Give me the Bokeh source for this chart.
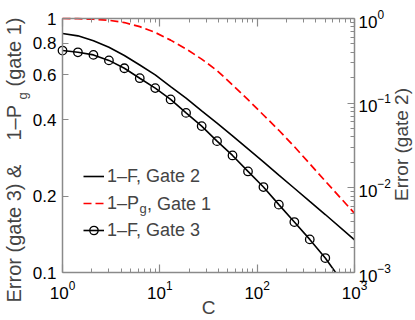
import math
from bokeh.plotting import figure
from bokeh.models import (Range1d, LogScale, LogAxis, FixedTicker, Label, Legend,
                          LegendItem, CustomJSTickFormatter, Grid)
from bokeh.embed import file_html
from bokeh.resources import INLINE

# ---- data ----
C = [1, 1.44, 2.08, 3.0, 4.32, 6.22, 8.97, 12.9, 18.6, 26.9, 38.7, 55.8, 80.5,
     116, 167, 241, 347, 501, 1000]
# 1-F, Gate 2 (right axis)
gate2_err = [0.665, 0.624, 0.547, 0.457, 0.366, 0.282, 0.216, 0.157, 0.115, 0.0813,
             0.0582, 0.0412, 0.0288, 0.0202, 0.0141, 0.00989, 0.00692, 0.00484, 0.00243]
# 1-Pg, Gate 1 (left axis)
gate1_err = [1.0, 0.998, 0.993, 0.984, 0.964, 0.929, 0.881, 0.822, 0.759, 0.692,
             0.624, 0.547, 0.479, 0.417, 0.363, 0.313, 0.268, 0.229, 0.171]
# 1-F, Gate 3 (left axis); its curve leaves the box at the bottom near C=640
C3 = [1, 1.44, 2.08, 3.0, 4.32, 6.22, 8.97, 12.9, 18.6, 26.9, 38.7, 55.8, 80.5,
      116, 167, 241, 347, 501, 640]
gate3_err = [0.748, 0.736, 0.719, 0.684, 0.637, 0.582, 0.532, 0.480, 0.425, 0.377,
             0.329, 0.289, 0.250, 0.217, 0.185, 0.158, 0.135, 0.114, 0.100]
C_marks = C3[:-1]
gate3_marks = gate3_err[:-1]

x_lim = (1, 1000)
left_lim = (0.1, 1.0)
right_lim = (0.001, 1.0)
x_major = [1, 10, 100, 1000]
left_ticks = [0.1, 0.2, 0.4, 0.6, 0.8, 1.0]
right_major = [0.001, 0.01, 0.1, 1.0]
x_minor = [m * d for d in (1, 10, 100) for m in range(2, 10)]
right_minor = [m * d for d in (0.001, 0.01, 0.1) for m in range(2, 10)]

# ---- layout: box (plot area) position in the 415x320 canvas ----
W, H = 415, 320
BOX_L, BOX_R, BOX_T, BOX_B = 62, 354, 18, 272


def log_range(lo, hi, p_lo, p_hi, total):
    # p_lo, p_hi: pixel distance of lo / hi from the canvas start edge
    a, b = math.log10(lo), math.log10(hi)
    per = (b - a) / (p_hi - p_lo)
    return Range1d(10 ** (a - p_lo * per), 10 ** (b + (total - p_hi) * per))


xr = log_range(x_lim[0], x_lim[1], BOX_L, BOX_R, W)
yr = log_range(left_lim[0], left_lim[1], H - BOX_B, H - BOX_T, H)
yr2 = log_range(right_lim[0], right_lim[1], H - BOX_B, H - BOX_T, H)

GRAY = "#8a8a8a"
FONT = "Liberation Sans"

p = figure(width=W, height=H, x_axis_type="log", y_axis_type="log",
           x_axis_location=None, y_axis_location=None,
           x_range=xr, y_range=yr, output_backend="svg", toolbar_location=None,
           min_border=0)
p.center = [c for c in p.center if not isinstance(c, Grid)]
p.extra_y_ranges = {"r": yr2}
p.extra_y_scales = {"r": LogScale()}
p.outline_line_color = None
p.background_fill_color = "white"
p.border_fill_color = "white"


def style(ax, major_in, minor_in, size="17px"):
    ax.axis_line_color = GRAY
    ax.axis_line_width = 1.5
    ax.major_tick_line_color = GRAY
    ax.minor_tick_line_color = GRAY
    ax.major_tick_line_width = 1.2
    ax.minor_tick_line_width = 1.0
    ax.major_tick_in = major_in
    ax.major_tick_out = 0
    ax.minor_tick_in = minor_in
    ax.minor_tick_out = 0
    ax.major_label_text_font = FONT
    ax.major_label_text_font_size = size
    ax.major_label_text_color = "black"


bottom = LogAxis(ticker=FixedTicker(ticks=x_major, minor_ticks=x_minor),
                 fixed_location=left_lim[0], bounds=x_lim)
style(bottom, 8, 4)
bottom.major_label_standoff = 8
p.add_layout(bottom, "below")

top = LogAxis(ticker=FixedTicker(ticks=x_major, minor_ticks=x_minor),
              fixed_location=left_lim[1], bounds=x_lim)
style(top, 8, 4, size="1px")
top.major_label_text_color = None
p.add_layout(top, "above")

left = LogAxis(ticker=FixedTicker(ticks=left_ticks, minor_ticks=[]),
               formatter=CustomJSTickFormatter(code="return String(tick)"),
               fixed_location=x_lim[0], bounds=left_lim)
style(left, 6, 0)
left.minor_tick_line_color = None
left.major_label_standoff = 6
p.add_layout(left, "left")

right = LogAxis(y_range_name="r",
                ticker=FixedTicker(ticks=right_major, minor_ticks=right_minor),
                fixed_location=x_lim[1], bounds=right_lim)
style(right, 7, 4)
right.major_label_standoff = 4
p.add_layout(right, "right")

# ---- curves ----
r2 = p.line(C, gate2_err, y_range_name="r", line_color="black", line_width=1.6)
r1 = p.line(C, gate1_err, line_color="#ff0000", line_width=1.7, line_dash="8 4")
r3l = p.line(C3, gate3_err, line_color="black", line_width=1.6)
r3c = p.scatter(C_marks, gate3_marks, marker="circle", size=8.5, fill_color=None,
                line_color="black", line_width=1.3)

leg = Legend(items=[LegendItem(label="1–F, Gate 2", renderers=[r2]),
                    LegendItem(label="1–P", renderers=[r1]),
                    LegendItem(label="1–F, Gate 3", renderers=[r3l, r3c])],
             location=(83, H - 242), padding=0, margin=0, spacing=3,
             glyph_width=21, glyph_height=24, label_height=24, label_standoff=3,
             label_text_font=FONT, label_text_font_size="18px",
             border_line_color=None, background_fill_alpha=0)
p.add_layout(leg)

# subscript g and rest of the red legend entry
p.add_layout(Label(x=139, y=H - 208, x_units="screen", y_units="screen", text="g",
                   text_font=FONT, text_font_size="13px", text_baseline="middle"))
p.add_layout(Label(x=146.5, y=H - 203, x_units="screen", y_units="screen",
                   text=", Gate 1", text_font=FONT, text_font_size="18px",
                   text_baseline="middle"))

# ---- axis titles ----
ang = math.pi / 2
for txt, x, y, fs in [("Error (gate 3) &", 13, H - 302, "20px"),
                      ("1–P", 13, H - 140, "20px"),
                      ("g", 21.5, H - 99, "13px"),
                      ("(gate 1)", 13, H - 86, "20px")]:
    p.add_layout(Label(x=x, y=y, x_units="screen", y_units="screen", text=txt,
                       angle=ang, text_font=FONT, text_font_size=fs,
                       text_align="left", text_baseline="alphabetic"))

p.add_layout(Label(x=401, y=H - 144, x_units="screen", y_units="screen",
                   text="Error (gate 2)", angle=ang, text_font=FONT,
                   text_font_size="19px", text_align="center",
                   text_baseline="alphabetic"))
p.add_layout(Label(x=208, y=H - 307, x_units="screen", y_units="screen", text="C",
                   text_font=FONT, text_font_size="19px", text_align="center",
                   text_baseline="alphabetic"))

open("out.html", "w").write(file_html(p, INLINE))
